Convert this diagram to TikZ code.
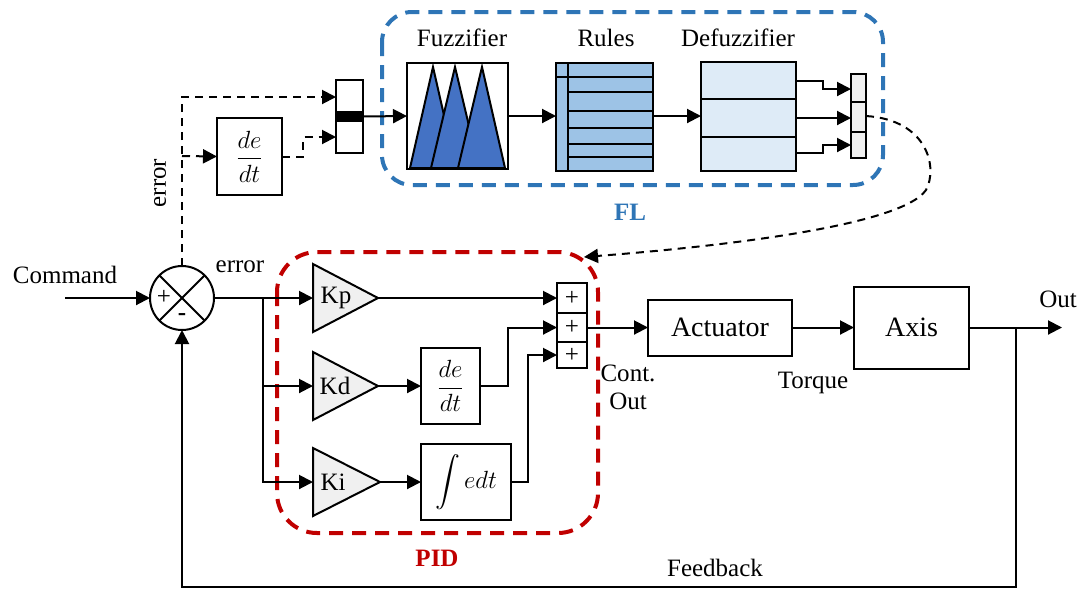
\documentclass[tikz,border=0pt]{standalone}
\usepackage{amsmath}
\usepackage{exscale}
\usepackage{fontspec}
\setmainfont{Liberation Serif}
\usetikzlibrary{arrows.meta,calc}
\definecolor{triblue}{HTML}{4472C4}
\definecolor{rulesblue}{HTML}{9DC3E6}
\definecolor{defblue}{HTML}{DEEBF7}
\definecolor{lgray}{HTML}{F0F0F0}
\definecolor{flblue}{HTML}{2E75B6}
\definecolor{pidred}{HTML}{C00000}
\begin{document}
\begin{tikzpicture}[x=1pt,y=-1pt,
  every node/.style={font=\fontsize{25}{28}\selectfont},
  lw/.style={line width=2pt},
  tip/.style={-{Triangle[length=14pt,width=14pt]}},
  arr/.style={lw,tip},
  darr/.style={lw,tip,dash pattern=on 8pt off 6pt},
  boxsty/.style={draw,line width=2pt,inner sep=0pt,outer sep=0pt},
  big/.style={font=\fontsize{28}{32}\selectfont},
  mth/.style={font=\fontsize{27}{30}\selectfont},
  grp/.style={line width=4pt,dash pattern=on 14pt off 9pt,rounded corners=#1},
  anchorbox/.style={inner sep=0pt,outer sep=0pt}
]
\useasboundingbox (0,0) rectangle (1083,590);

% ---------------- FL group ----------------
\draw[grp=30pt,flblue] (382,12) rectangle (883,185);
\node[font=\fontsize{25}{28}\selectfont\bfseries,text=flblue] (fllab) at (630,212) {FL};

% input mux
\node[boxsty,minimum width=27pt,minimum height=73pt] (mux1) at (349.5,116.5) {};
\fill ($(mux1.west)+(0,-5.5)$) rectangle ($(mux1.east)+(0,5.5)$);
\coordinate (m1a) at (336,97);
\coordinate (m1b) at (336,137);

% fuzzifier
\node[boxsty,minimum width=101pt,minimum height=106pt] (fuz) at (457.5,116) {};
\filldraw[fill=triblue,lw,line join=miter] (410,168) -- (433,67) -- (456,168) -- cycle;
\filldraw[fill=triblue,lw,line join=miter] (431,168) -- (455,67) -- (479,168) -- cycle;
\filldraw[fill=triblue,lw,line join=miter] (458,168) -- (482,67) -- (505,168) -- cycle;
\draw[lw] (fuz.north west) rectangle (fuz.south east);
\node (fuzlab) at (462,38) {Fuzzifier};

% rules
\node[boxsty,fill=rulesblue,minimum width=97pt,minimum height=108pt] (rules) at (604.5,117) {};
\draw[lw] (568,63) -- (568,171);
\draw[lw] (556,77) -- (653,77);
\foreach \yy in {92,111,128,144,157} \draw[lw] (568,\yy) -- (653,\yy);
\node (ruleslab) at (606,38) {Rules};

% defuzzifier
\node[boxsty,fill=defblue,minimum width=95pt,minimum height=109pt] (defz) at (748.5,116.5) {};
\draw[lw] (701,99) -- (796,99);
\draw[lw] (701,137) -- (796,137);
\node (defzlab) at (738,38) {Defuzzifier};

% output mux
\node[boxsty,fill=lgray,minimum width=15pt,minimum height=84pt] (mux2) at (858.5,116) {};
\draw[lw] (851,102) -- (866,102);
\draw[lw] (851,132) -- (866,132);
\coordinate (m2a) at (851,89);
\coordinate (m2b) at (851,118);
\coordinate (m2c) at (851,145);

% FL connectors
\draw[arr] (mux1.east) -- (fuz.west);
\draw[arr] (fuz.east) -- (rules.west |- fuz.east);
\draw[arr] (rules.east |- fuz.east) -- (defz.west |- fuz.east);
\draw[arr] (796,81) -- (823,81) -- (823,89) -- (m2a);
\draw[arr] (796,118) -- (m2b);
\draw[arr] (796,153) -- (823,153) -- (823,145) -- (m2c);

% ---------------- main loop ----------------
\node (cmd) at (65,275) {Command};
\coordinate (cmdstart) at (65,298);
\node[circle,draw,lw,minimum size=64pt,inner sep=0pt,outer sep=0pt] (sum) at (182,298) {};
\draw[lw] (sum.north west) -- (sum.south east);
\draw[lw] (sum.north east) -- (sum.south west);
\node[inner sep=0pt] (plus) at (164,297) {+};
\node[inner sep=0pt,font=\fontsize{25}{28}\selectfont\bfseries] (minus) at (182,317) {-};
\draw[arr] (cmdstart) -- (sum.west);
\node (errlab) at (240,267) {error};

% error to FL
\node[boxsty,mth,minimum width=65pt,minimum height=77pt] (dd1) at (249.5,156.5) {$\dfrac{de}{dt}$};
\coordinate (ebr) at (182,156);
\draw[darr] (sum.north) |- (m1a);
\draw[darr] (ebr) -- (dd1.west);
\draw[darr] (dd1.east) -- ++(21,0) |- (m1b);
\node[rotate=90] (verr) at (160,183) {error};

% ---------------- PID group ----------------
\draw[grp=40pt,pidred] (277,252) rectangle (598,533);
\node[font=\fontsize{25}{28}\selectfont\bfseries,text=pidred] (pidlab) at (437,558) {PID};

\node[anchorbox,minimum width=65pt,minimum height=68pt] (kp) at (345.5,298) {};
\node[anchorbox,minimum width=65pt,minimum height=68pt] (kd) at (345.5,386) {};
\node[anchorbox,minimum width=67pt,minimum height=68pt] (ki) at (346.5,482) {};
\foreach \g in {kp,kd,ki}
  \filldraw[fill=lgray,lw,line join=miter] (\g.north west) -- (\g.east) -- (\g.south west) -- cycle;
\node (kplab) at (336,298) {Kp};
\node (kdlab) at (335,386) {Kd};
\node (kilab) at (333,482) {Ki};

\coordinate (br) at (263,298);
\draw[arr] (sum.east) -- (kp.west);
\draw[arr] (br) |- (ki.west);
\draw[arr] (br |- kd.west) -- (kd.west);

\node[boxsty,mth,minimum width=59pt,minimum height=76pt] (dd2) at (450.5,386) {$\dfrac{de}{dt}$};
\node[boxsty,mth,minimum width=90pt,minimum height=76pt] (integ) at (466,482) {$\displaystyle\int edt$};
\draw[arr] (kd.east) -- (dd2.west);
\draw[arr] (ki.east) -- (integ.west);

% summing block
\node[boxsty,minimum width=30pt,minimum height=30pt] (s1) at (572,298) {+};
\node[boxsty,minimum width=30pt,minimum height=29pt] (s2) at (572,327.5) {+};
\node[boxsty,minimum width=30pt,minimum height=26pt] (s3) at (572,355) {+};
\draw[arr] (kp.east) -- (s1.west);
\draw[arr] (dd2.east) -- (508,386) |- (s2.west);
\draw[arr] (integ.east) -- (528,482) |- (s3.west);

% plant
\node[boxsty,big,minimum width=144pt,minimum height=56pt] (act) at (720,327.5) {Actuator};
\node[boxsty,big,minimum width=115pt,minimum height=82pt] (axis) at (911.5,327.5) {Axis};
\draw[arr] (s2.east) -- (act.west);
\draw[arr] (act.east) -- (axis.west);
\coordinate (outend) at (1062,327.5);
\draw[arr] (axis.east) -- (outend);
\node (outlab) at (1058,299) {Out};
\node (torq) at (813,383) {Torque};
\node[align=center] (contout) at (628,387) {Cont.\\Out};

% feedback
\coordinate (fbr) at (1016,327.5);
\draw[arr] (fbr) |- (182,587) -- (sum.south);
\node (fblab) at (715,568) {Feedback};

% FL output back to PID
\draw[darr] (mux2.east) .. controls (928,120) and (938,168) .. (926,190)
  .. controls (900,228) and (700,248) .. (584,257);
\end{tikzpicture}
\end{document}
